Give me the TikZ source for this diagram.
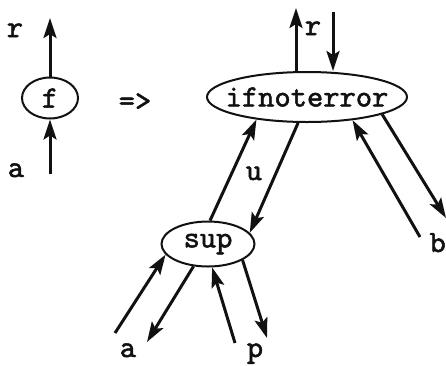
\documentclass[tikz,border=0pt]{standalone}
\usepackage{fontspec,xcolor,tikz}
\usetikzlibrary{arrows.meta,shapes.geometric}
\newfontfamily\codefam{lmmono10-regular}[Extension=.otf,AutoFakeBold=1.6]
\definecolor{ink}{HTML}{111111}
\newcommand{\codefont}{\fontsize{31}{36}\selectfont\codefam\bfseries}

\begin{document}
\begin{tikzpicture}[x=1pt,y=-1pt,
  knoten/.style={draw=ink,ellipse,line width=2pt,inner xsep=-40pt,inner ysep=0,font=\codefont,text=ink},
  pfeil/.style={draw=ink,line width=3pt,-{Stealth[length=20pt,width=13pt,inset=4pt]}},
  marke/.style={anchor=base,inner sep=0,font=\codefont,text=ink}]
\useasboundingbox (0,0) rectangle (446,365);
% vorher
\node[knoten,minimum width=56pt,minimum height=41pt] (f) at (50,98) {f};
\coordinate (ftop) at (50,18);
\coordinate (fbot) at (50,174);
\node[marke] (r1) at (15,37) {r};
\node[marke] (a1) at (16,177) {a};
\node[marke,anchor=center] (impl) at (135,102) {=>};
% nachher
\node[knoten,minimum width=200pt,minimum height=50pt] (ifn) at (307,97) {ifnoterror};
\node[knoten,minimum width=93pt,minimum height=45pt] (sup) at (208,244) {sup};
\coordinate (rauf) at (296,8);
\coordinate (rab) at (333,12);
\coordinate (bein) at (420,237);
\coordinate (baus) at (446,218);
\coordinate (aein) at (115,333);
\coordinate (aaus) at (147,342);
\coordinate (pein) at (235,343);
\coordinate (paus) at (267,338);
\node[marke] (r2) at (313,35) {r};
\node[marke] (u) at (254,180) {u};
\node[marke,anchor=base east] (b) at (446,252) {b};
\node[marke] (a2) at (128,357) {a};
\node[marke] (p) at (255,357) {p};
\foreach \von/\nach in {f/ftop,fbot/f,ifn.north -| rauf/rauf,rab/rab |- ifn.north,
  sup.85/ifn.204,ifn.251/sup.15,bein/ifn.333,ifn.347/baus,
  aein/sup.194,sup.237/aaus,pein/sup.280,sup.335/paus}
  \draw[pfeil] (\von) -- (\nach);
\end{tikzpicture}
\end{document}
